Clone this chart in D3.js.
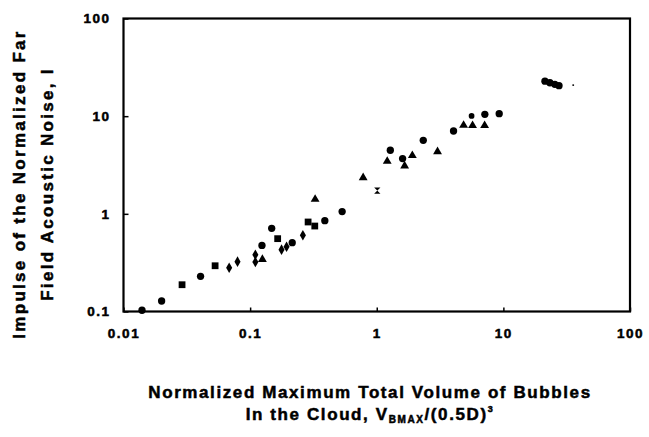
<!DOCTYPE html>
<html>
<head>
<meta charset="utf-8">
<script src="https://cdn.jsdelivr.net/npm/d3@7/dist/d3.min.js"></script>
<style>
  body { margin: 0; background: #fff; }
  svg { display: block; font-family: "Liberation Sans", Arial, sans-serif; font-weight: bold; }
  svg text { stroke: #000; stroke-width: 0.5px; }
</style>
</head>
<body>
<div id="chart"></div>
<script>
// by marker shape
var circleX = [0.014, 0.020, 0.0406, 0.124, 0.148, 0.215, 0.389, 0.533, 1.28, 1.60, 2.33, 4.04, 7.14, 9.27, 21.3, 23.3, 25.5, 27.5];
var circleY = [0.103, 0.128, 0.229, 0.475, 0.710, 0.507, 0.851, 1.054, 4.48, 3.68, 5.66, 7.05, 10.45, 10.6, 22.8, 22.0, 21.2, 20.5];
var smallX = [5.61];
var smallY = [10.05];
var dotX = [35.6];
var dotY = [20.8];
var squareX = [0.029, 0.0529, 0.165, 0.287, 0.324];
var squareY = [0.188, 0.294, 0.557, 0.825, 0.750];
var diamondX = [0.0683, 0.0795, 0.110, 0.110, 0.177, 0.194, 0.261];
var diamondY = [0.281, 0.324, 0.382, 0.321, 0.430, 0.461, 0.603];
var triangleX = [0.125, 0.326, 0.781, 1.21, 1.66, 1.91, 3.02, 4.85, 5.71, 7.11];
var triangleY = [0.342, 1.41, 2.35, 3.45, 3.09, 3.95, 4.34, 8.07, 8.02, 8.02];
var bowX = [1.01];
var bowY = [1.73];

var xTicks = [0.01, 0.1, 1, 10, 100];
var yTicks = [0.1, 1, 10, 100];
var xLabels = ['0.01', '0.1', '1', '10', '100'];
var yLabels = ['0.1', '1', '10', '100'];

var W = 649, H = 437;
var svg = d3.select('#chart').append('svg').attr('width', W).attr('height', H);

var x = d3.scaleLog().domain([0.01, 100]).range([123.5, 630]);
var y = d3.scaleLog().domain([0.1, 100]).range([311.5, 18.5]);

// axes with inward ticks
var gx = svg.append('g').attr('transform', 'translate(0,' + y.range()[0] + ')')
  .call(d3.axisBottom(x).tickValues(xTicks).tickSize(-4).tickPadding(14)
    .tickFormat(function (d, i) { return xLabels[i]; }));
var gy = svg.append('g').attr('transform', 'translate(' + x.range()[0] + ',0)')
  .call(d3.axisLeft(y).tickValues(yTicks).tickSize(-5).tickPadding(13)
    .tickFormat(function (d, i) { return yLabels[i]; }));
[gx, gy].forEach(function (g) {
  g.select('.domain').remove();
  g.selectAll('.tick line').attr('stroke', '#000').attr('stroke-width', 1.5);
  g.selectAll('.tick text').attr('font-size', 13.5).attr('font-family', null)
    .attr('fill', '#000').style('letter-spacing', '1.5px');
});
gx.selectAll('.tick text').attr('dy', '0.9em');

// frame
svg.append('rect')
  .attr('x', x.range()[0]).attr('y', y.range()[1])
  .attr('width', x.range()[1] - x.range()[0])
  .attr('height', y.range()[0] - y.range()[1])
  .attr('fill', 'none').attr('stroke', '#000').attr('stroke-width', 2.2);

var bowtie = {
  draw: function (ctx, size) {
    var s = Math.sqrt(size) / 2;
    ctx.moveTo(-s, -s); ctx.lineTo(s, -s); ctx.lineTo(-s, s); ctx.lineTo(s, s); ctx.closePath();
  }
};

function plot(xs, ys, type, size) {
  svg.append('g').selectAll('path')
    .data(xs.map(function (v, i) { return [v, ys[i]]; }))
    .join('path')
    .attr('transform', function (d) { return 'translate(' + x(d[0]) + ',' + y(d[1]) + ')'; })
    .attr('d', d3.symbol().type(type).size(size))
    .attr('fill', '#000');
}
plot(circleX, circleY, d3.symbolCircle, 42);
plot(smallX, smallY, d3.symbolCircle, 26);
plot(dotX, dotY, d3.symbolCircle, 3);
plot(squareX, squareY, d3.symbolSquare, 46);
plot(diamondX, diamondY, d3.symbolDiamond, 32);
plot(triangleX, triangleY, d3.symbolTriangle, 34);
plot(bowX, bowY, bowtie, 40);

// y title
var yt = svg.append('text').attr('transform', 'translate(0,184) rotate(-90)')
  .attr('text-anchor', 'middle').attr('font-size', 17).style('letter-spacing', '2.3px');
yt.append('tspan').attr('x', 0).attr('y', 25).text('Impulse of the Normalized Far');
yt.append('tspan').attr('x', 0).attr('y', 53).text('Field Acoustic Noise, I');

// x title
var xt = svg.append('text').attr('text-anchor', 'middle').attr('font-size', 17)
  .style('letter-spacing', '1.6px');
xt.append('tspan').attr('x', 370).attr('y', 398).text('Normalized Maximum Total Volume of Bubbles');
var l2 = svg.append('text').attr('text-anchor', 'middle').attr('font-size', 17)
  .style('letter-spacing', '1.6px').attr('x', 370).attr('y', 420);
l2.append('tspan').text('In the Cloud, V');
l2.append('tspan').attr('font-size', 10).attr('dy', 3).text('BMAX');
l2.append('tspan').attr('dy', -3).text('/(0.5D)');
l2.append('tspan').attr('font-size', 9).attr('dy', -8).text('3');
</script>
</body>
</html>
